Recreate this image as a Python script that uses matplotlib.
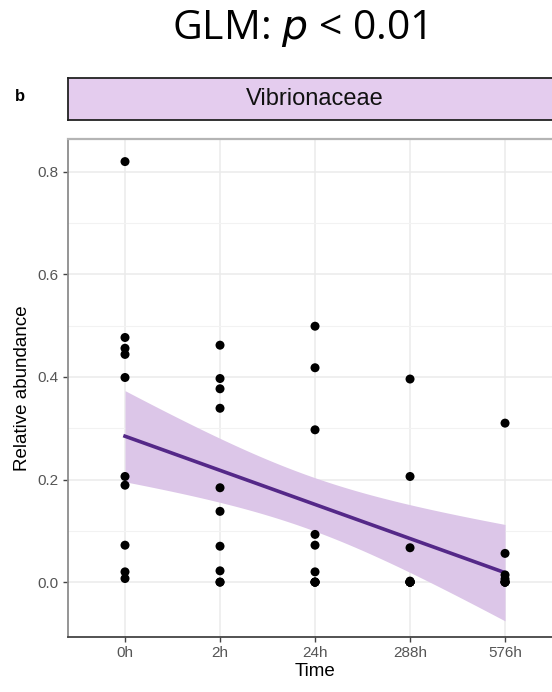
import numpy as np
import matplotlib
matplotlib.use("Agg")
import matplotlib.pyplot as plt

# values; zeros added so every time point has 10 replicates
times = ["0h", "2h", "24h", "288h", "576h"]
abund_0h = [0.820, 0.477, 0.456, 0.444, 0.399, 0.206, 0.189, 0.072, 0.020, 0.007]
abund_2h = [0.462, 0.397, 0.377, 0.339, 0.184, 0.138, 0.070, 0.022, 0.0, 0.0]
abund_24h = [0.499, 0.418, 0.297, 0.093, 0.072, 0.020, 0.0, 0.0, 0.0, 0.0]
abund_288h = [0.396, 0.206, 0.067, 0.002, 0.0, 0.0, 0.0, 0.0, 0.0, 0.0]
abund_576h = [0.310, 0.056, 0.014, 0.006, 0.0, 0.0, 0.0, 0.0]
y_ticks = [0.0, 0.2, 0.4, 0.6, 0.8]

groups = [abund_0h, abund_2h, abund_24h, abund_288h, abund_576h]
xs = np.concatenate([np.full(len(g), i + 1.0) for i, g in enumerate(groups)])
ys = np.concatenate([np.array(g) for g in groups])

# linear fit with 95% confidence band (like geom_smooth(method="lm"))
slope, icpt = np.polyfit(xs, ys, 1)
resid = ys - (icpt + slope * xs)
n = len(xs)
s = np.sqrt(np.sum(resid ** 2) / (n - 2))
sxx = np.sum((xs - xs.mean()) ** 2)
xf = np.linspace(1, 5, 100)
yf = icpt + slope * xf
half = 2.011 * s * np.sqrt(1.0 / n + (xf - xs.mean()) ** 2 / sxx)

fig = plt.figure(figsize=(5.52, 6.92), dpi=100)

ax = fig.add_axes([0.1232, 0.0795, 0.895, 0.7196])
ax.set_xlim(0.4, 5.6)
ax.set_ylim(-0.107, 0.864)

ax.set_yticks(y_ticks)
ax.set_yticks([0.1, 0.3, 0.5, 0.7], minor=True)
ax.set_xticks(range(1, 6))
ax.set_xticklabels(times)
ax.grid(True, which="major", color="#ebebeb", linewidth=1.1, zorder=0)
ax.grid(True, which="minor", axis="y", color="#f2f2f2", linewidth=0.8, zorder=0)
ax.set_axisbelow(True)

ax.fill_between(xf, yf - half, yf + half, color="#dcc6e8", linewidth=0, zorder=1)
ax.plot(xf, yf, color="#542888", linewidth=2.6, zorder=2)
ax.scatter(xs, ys, s=42, color="black", edgecolors="none", zorder=3)

ax.spines["top"].set_color("#b4b4b4")
ax.spines["top"].set_linewidth(1.6)
ax.spines["left"].set_color("#8c8c8c")
ax.spines["left"].set_linewidth(1.3)
ax.spines["bottom"].set_color("#444444")
ax.spines["bottom"].set_linewidth(1.3)
ax.spines["right"].set_visible(False)

ax.tick_params(axis="both", which="major", length=3.5, width=1, color="#444444",
               labelcolor="#555555", labelsize=11, pad=3)
ax.tick_params(axis="y", which="minor", length=0)
for lab in ax.get_xticklabels() + ax.get_yticklabels():
    lab.set_family("Liberation Sans")

ax.set_xlabel("Time", fontsize=13.5, family="Liberation Sans", labelpad=2)
ax.set_ylabel("Relative abundance", fontsize=13.5, family="Liberation Sans", labelpad=5)

# facet strip
strip = fig.add_axes([0.1232, 0.8266, 0.895, 0.0607])
strip.set_facecolor("#e4ccee")
strip.set_xticks([])
strip.set_yticks([])
for side in ["top", "bottom", "left"]:
    strip.spines[side].set_color("#222222")
    strip.spines[side].set_linewidth(1.3)
strip.spines["right"].set_visible(False)
strip.text(0.5, 0.5, "Vibrionaceae", transform=strip.transAxes,
           ha="center", va="center", fontsize=17, family="Liberation Sans",
           color="#111111")

fig.text(0.037, 0.86, "b", fontsize=12, fontweight="bold", family="Liberation Sans",
         ha="center", va="center")

fig.text(0.542, 0.9436, r"GLM: $\it{p}$ < 0.01", fontsize=29.5, family="Open Sans",
         ha="center", va="baseline")

fig.savefig("out.png", dpi=100)
